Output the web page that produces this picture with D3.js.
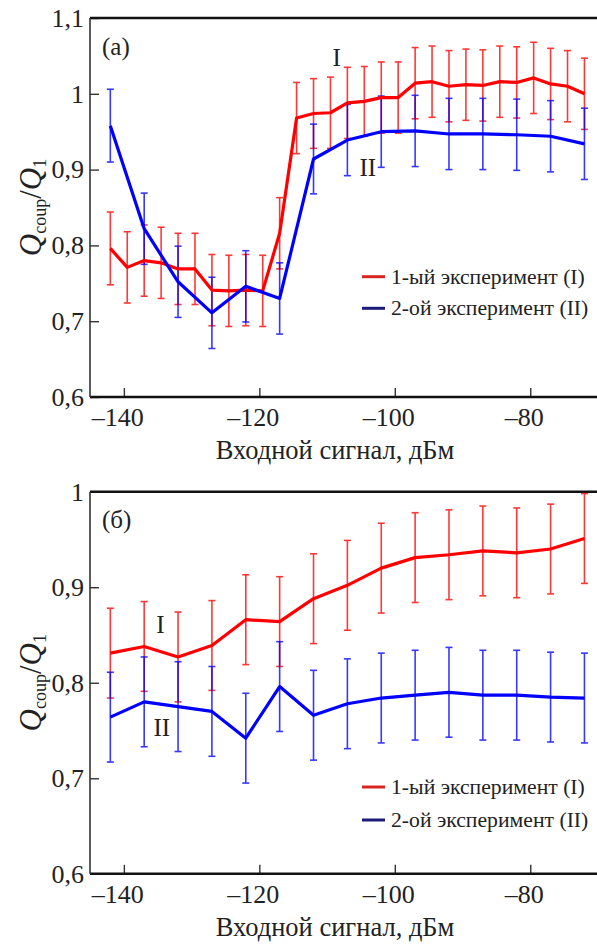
<!DOCTYPE html>
<html>
<head>
<meta charset="utf-8">
<script src="https://cdn.jsdelivr.net/npm/d3@7"></script>
<style>
  body { margin: 0; background: #fff; }
  svg { display: block; }
</style>
</head>
<body>
<svg id="chart" width="597" height="944"></svg>
<script>
// ---- data -------------------------------------------------------------
// Panel (a): experiment I measured every 2.5 dBm, experiment II every 5 dBm
const xA1 = [-142, -139.5, -137, -134.5, -132, -129.5, -127, -124.5, -122, -119.5, -117, -114.5, -112, -109.5,
             -107, -104.5, -102, -99.5, -97, -94.5, -92, -89.5, -87, -84.5, -82, -79.5, -77, -74.5, -72];
const yA1 = [0.796, 0.771, 0.780, 0.777, 0.769, 0.769, 0.741, 0.740, 0.741, 0.740, 0.816, 0.968, 0.974, 0.975,
             0.988, 0.990, 0.995, 0.995, 1.014, 1.016, 1.010, 1.012, 1.011, 1.016, 1.015, 1.021, 1.013, 1.010, 1.000];
const eA1 = [0.048, 0.047, 0.047, 0.047, 0.047, 0.047, 0.047, 0.047, 0.047, 0.047, 0.047, 0.047, 0.046, 0.047,
             0.047, 0.046, 0.047, 0.047, 0.047, 0.047, 0.047, 0.047, 0.047, 0.047, 0.047, 0.047, 0.047, 0.047, 0.047];

const xA2 = [-142, -137, -132, -127, -122, -117, -112, -107, -102, -97, -92, -87, -82, -77, -72];
const yA2 = [0.958, 0.822, 0.752, 0.711, 0.746, 0.730, 0.914, 0.939, 0.950, 0.951, 0.947, 0.947, 0.946, 0.944, 0.934];
const eA2 = [0.048, 0.047, 0.047, 0.047, 0.047, 0.047, 0.046, 0.047, 0.047, 0.047, 0.047, 0.047, 0.047, 0.047, 0.047];

// Panel (б): both experiments every 5 dBm
const xB = [-142, -137, -132, -127, -122, -117, -112, -107, -102, -97, -92, -87, -82, -77, -72];
const yB1 = [0.831, 0.838, 0.827, 0.839, 0.866, 0.864, 0.888, 0.902, 0.920, 0.931, 0.934, 0.938, 0.936, 0.940, 0.951];
const eB1 = [0.047, 0.047, 0.047, 0.047, 0.047, 0.047, 0.047, 0.047, 0.047, 0.047, 0.047, 0.047, 0.047, 0.047, 0.047];
const yB2 = [0.764, 0.780, 0.775, 0.770, 0.742, 0.796, 0.766, 0.778, 0.784, 0.787, 0.790, 0.787, 0.787, 0.785, 0.784];
const eB2 = [0.047, 0.047, 0.047, 0.047, 0.047, 0.047, 0.047, 0.047, 0.047, 0.047, 0.047, 0.047, 0.047, 0.047, 0.047];

const xTicks = [-140, -120, -100, -80];
const yTicksA = [0.6, 0.7, 0.8, 0.9, 1.0, 1.1];
const yTicksB = [0.6, 0.7, 0.8, 0.9, 1.0];

const seriesNames = ["1-ый эксперимент (I)", "2-ой эксперимент (II)"];
const xTitle = "Входной сигнал, дБм";

// ---- drawing ----------------------------------------------------------
const FONT = "'Liberation Serif'";
const svg = d3.select("#chart");
const RED = "#ff0000", BLUE = "#0000ff";
const LEG_RED = "#d9251f", LEG_BLUE = "#1e1a7a";
const FS_TICK = 26;
const INK = "#222";

const dash = "\u2013";
function fmtY(d) { return String(Math.round(d * 10) / 10).replace(".", ","); }

function drawPanel(cfg) {
  const g = svg.append("g");
  const x = d3.scaleLinear().domain([-145, -70]).range([90, 598]);
  const y = d3.scaleLinear().domain(cfg.yDomain).range([cfg.bottom, cfg.top]);

  // y axis: inward ticks, labels on the left
  const ya = g.append("g").attr("transform", `translate(${x.range()[0]},0)`)
    .call(d3.axisLeft(y).tickValues(cfg.yTicks).tickSize(-9).tickPadding(6).tickFormat(fmtY));
  ya.attr("font-family", FONT).attr("font-size", FS_TICK);
  ya.select(".domain").remove();
  ya.selectAll(".tick line").attr("stroke", "#333").attr("stroke-width", 1.4);
  ya.selectAll(".tick text").attr("fill", INK);

  // x axis: inward ticks, numbers centred on the tick with the minus sign hanging left
  const xa = g.append("g").attr("transform", `translate(0,${cfg.bottom})`)
    .call(d3.axisBottom(x).tickValues(xTicks).tickSize(-9).tickPadding(11)
      .tickFormat(d => (d < 0 ? dash : "") + Math.abs(d)));
  xa.attr("font-family", FONT).attr("font-size", FS_TICK);
  xa.select(".domain").remove();
  xa.selectAll(".tick line").attr("stroke", "#333").attr("stroke-width", 1.4);
  xa.selectAll(".tick text").attr("fill", INK);
  const probe = g.append("text").attr("font-family", FONT).attr("font-size", FS_TICK).text(dash);
  const dashW = probe.node().getComputedTextLength();
  probe.remove();
  xa.selectAll(".tick text").attr("x", -dashW / 2);

  // frame
  g.append("line").attr("x1", x.range()[0]).attr("x2", 600).attr("y1", cfg.top).attr("y2", cfg.top)
    .attr("stroke", "#111").attr("stroke-width", 2.6);
  g.append("line").attr("x1", x.range()[0]).attr("x2", 600).attr("y1", cfg.bottom).attr("y2", cfg.bottom)
    .attr("stroke", "#111").attr("stroke-width", 2.6);
  g.append("line").attr("x1", x.range()[0]).attr("x2", x.range()[0]).attr("y1", cfg.top).attr("y2", cfg.bottom)
    .attr("stroke", "#333").attr("stroke-width", 1.6);

  // error bars (red first, blue on top, semi-transparent)
  cfg.series.forEach(s => {
    const pts = s.x.map((xv, i) => ({ x: xv, y: s.y[i], e: s.e[i] }));
    const eb = g.append("g").attr("stroke", s.color).attr("stroke-width", 1.6).attr("opacity", 0.78);
    eb.selectAll("line.v").data(pts).join("line").attr("class", "v")
      .attr("x1", d => x(d.x)).attr("x2", d => x(d.x))
      .attr("y1", d => y(d.y - d.e)).attr("y2", d => y(d.y + d.e));
    eb.selectAll("line.t").data(pts).join("line").attr("class", "t")
      .attr("x1", d => x(d.x) - 3.5).attr("x2", d => x(d.x) + 3.5)
      .attr("y1", d => y(d.y + d.e)).attr("y2", d => y(d.y + d.e));
    eb.selectAll("line.b").data(pts).join("line").attr("class", "b")
      .attr("x1", d => x(d.x) - 3.5).attr("x2", d => x(d.x) + 3.5)
      .attr("y1", d => y(d.y - d.e)).attr("y2", d => y(d.y - d.e));
  });

  // data lines
  cfg.series.forEach(s => {
    const pts = s.x.map((xv, i) => [xv, s.y[i]]);
    g.append("path").datum(pts)
      .attr("fill", "none").attr("stroke", s.color).attr("stroke-width", 3.2)
      .attr("stroke-linejoin", "round")
      .attr("d", d3.line().x(d => x(d[0])).y(d => y(d[1])));
  });

  // curve labels I / II
  cfg.curveLabels.forEach(c => {
    g.append("text").attr("x", x(c.x)).attr("y", y(c.y)).attr("dy", "0.35em")
      .attr("text-anchor", "middle").attr("font-size", 25).text(c.t);
  });

  // panel letter
  g.append("text").attr("x", 102).attr("y", cfg.top + 28).attr("dy", "0.35em")
    .attr("font-size", 25).text(cfg.letter);

  // legend
  cfg.legendY.forEach((ly, i) => {
    g.append("line").attr("x1", 362).attr("x2", 385).attr("y1", ly).attr("y2", ly)
      .attr("stroke", i === 0 ? LEG_RED : LEG_BLUE).attr("stroke-width", 3);
    g.append("text").attr("x", 391).attr("y", ly).attr("dy", "0.33em")
      .attr("font-size", 21.7).text(seriesNames[i]);
  });

  // y axis title: Q_coup / Q_1
  const yc = (cfg.top + cfg.bottom) / 2;
  const t = g.append("text").attr("transform", `translate(41,${yc}) rotate(-90)`)
    .attr("text-anchor", "middle").attr("font-size", 31);
  t.append("tspan").attr("font-style", "italic").text("Q");
  t.append("tspan").attr("font-size", 18).attr("dy", 5).text("coup");
  t.append("tspan").attr("dy", -5).text("/");
  t.append("tspan").attr("font-style", "italic").text("Q");
  t.append("tspan").attr("font-size", 18).attr("dy", 5).text("1");

  // x axis title
  g.append("text").attr("x", 335).attr("y", cfg.bottom + 62).attr("text-anchor", "middle")
    .attr("font-size", 26.5).text(xTitle);
}

drawPanel({
  top: 18, bottom: 397, yDomain: [0.6, 1.1], yTicks: yTicksA, letter: "(a)",
  series: [
    { x: xA1, y: yA1, e: eA1, color: RED },
    { x: xA2, y: yA2, e: eA2, color: BLUE }
  ],
  curveLabels: [{ x: -108.6, y: 1.048, t: "I" }, { x: -104, y: 0.9025, t: "II" }],
  legendY: [276.7, 308.3]
});

drawPanel({
  top: 491.7, bottom: 873.8, yDomain: [0.6, 1.0], yTicks: yTicksB, letter: "(б)",
  series: [
    { x: xB, y: yB1, e: eB1, color: RED },
    { x: xB, y: yB2, e: eB2, color: BLUE }
  ],
  curveLabels: [{ x: -134.6, y: 0.8616, t: "I" }, { x: -134.4, y: 0.753, t: "II" }],
  legendY: [787, 820]
});

// one typeface for every label
svg.selectAll("text").attr("font-family", FONT).attr("fill", INK);
</script>
</body>
</html>
